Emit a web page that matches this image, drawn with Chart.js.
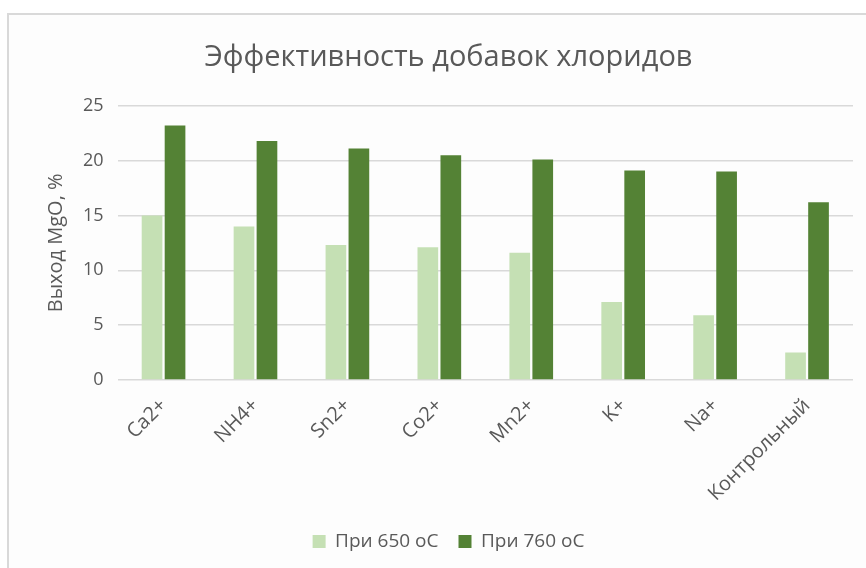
<!DOCTYPE html>
<html>
<head>
<meta charset="utf-8">
<script src="https://cdn.jsdelivr.net/npm/chart.js@4"></script>
<style>
  html, body { margin: 0; padding: 0; background: #fff; }
  #frame {
    position: absolute; left: 7px; top: 13px; width: 859px; height: 555px;
    border-top: 2px solid #d9d9d9; border-left: 2px solid #d9d9d9;
    background: #fdfdfd;
  }
</style>
</head>
<body>
<div id="frame"><canvas id="chart" width="857" height="553"></canvas></div>
<script>
// Data
const categories = ['Ca2+', 'NH4+', 'Sn2+', 'Co2+', 'Mn2+', 'K+', 'Na+', 'Контрольный'];
const at650 = [15.0, 14.0, 12.3, 12.1, 11.6, 7.1, 5.9, 2.5];
const at760 = [23.2, 21.8, 21.1, 20.5, 20.1, 19.1, 19.0, 16.2];
const seriesNames = ['При 650 oC', 'При 760 oC'];

const textColor = '#595959';
const font = '"Open Sans", "DejaVu Sans", sans-serif';

const ctx = document.getElementById('chart').getContext('2d');
new Chart(ctx, {
  type: 'bar',
  data: {
    labels: categories,
    datasets: [
      { label: seriesNames[0], data: at650, backgroundColor: '#c5e0b4' },
      { label: seriesNames[1], data: at760, backgroundColor: '#548235' }
    ]
  },
  options: {
    responsive: false,
    animation: false,
    categoryPercentage: 0.5,
    barPercentage: 0.9,
    layout: { padding: { left: 35, right: 13, top: 10, bottom: 7 } },
    plugins: {
      title: {
        display: true,
        text: 'Эффективность добавок хлоридов',
        color: textColor,
        font: { family: font, size: 29, weight: 'normal' },
        padding: { top: 15, bottom: 31 }
      },
      legend: {
        position: 'bottom',
        labels: {
          color: textColor,
          font: { family: font, size: 19 },
          boxWidth: 13, boxHeight: 13,
          padding: 20
        }
      },
      tooltip: { enabled: false }
    },
    scales: {
      x: {
        grid: { display: false },
        border: { display: false },
        ticks: {
          color: textColor,
          font: { family: font, size: 20 },
          minRotation: 45, maxRotation: 45,
          padding: 6
        }
      },
      y: {
        min: 0, max: 25,
        ticks: { stepSize: 5, color: textColor, font: { family: font, size: 18 }, padding: 14 },
        grid: { color: '#d9d9d9', lineWidth: 1.5, drawTicks: false },
        border: { display: false },
        title: {
          display: true,
          text: 'Выход MgO, %',
          color: textColor,
          font: { family: font, size: 20 },
          padding: { top: 0, bottom: 1 }
        }
      }
    }
  }
});
</script>
</body>
</html>
